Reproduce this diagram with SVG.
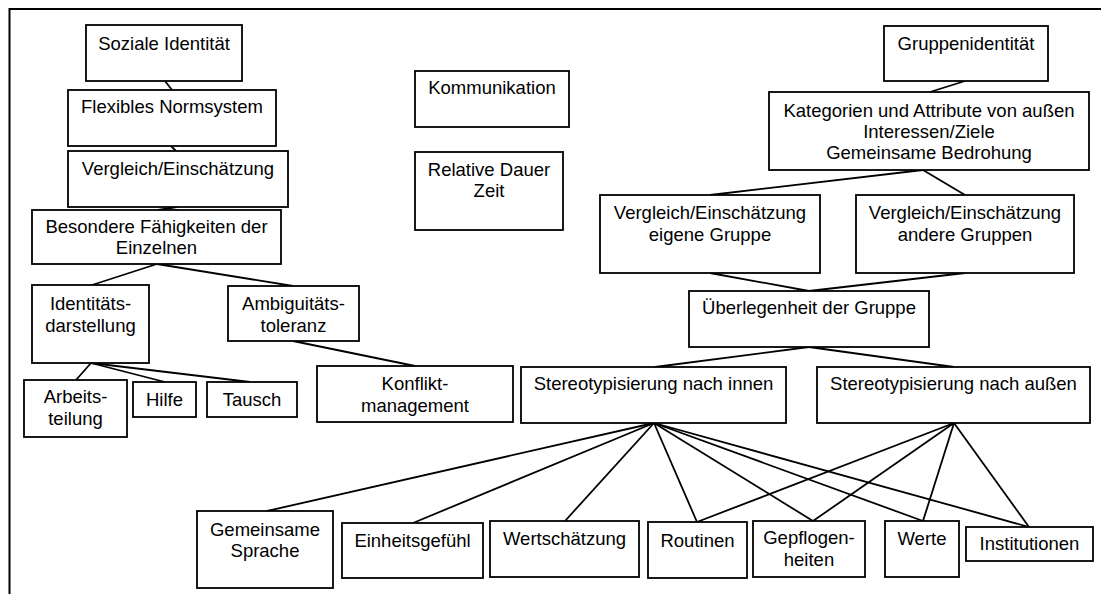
<svg xmlns="http://www.w3.org/2000/svg" width="1101" height="594" viewBox="0 0 1101 594">
<style>
.b{fill:#fff;stroke:#000;stroke-width:1.8}
.t{font-family:"Liberation Sans",Arial,sans-serif;font-size:18.5px;fill:#000;text-anchor:middle}
.c line{stroke:#000;stroke-width:1.8}
</style>
<rect width="1101" height="594" fill="#fff"/>
<path d="M9.5 594 V9 H1101" fill="none" stroke="#000" stroke-width="2"/>
<g class="c" id="connectors">
<line x1="165" y1="81" x2="172" y2="90"/>
<line x1="171" y1="146" x2="176" y2="151"/>
<line x1="177" y1="207" x2="158" y2="210"/>
<line x1="157" y1="264" x2="92" y2="285"/>
<line x1="157" y1="264" x2="293" y2="286"/>
<line x1="91" y1="363" x2="76" y2="380"/>
<line x1="91" y1="363" x2="165" y2="382"/>
<line x1="91" y1="363" x2="250" y2="382"/>
<line x1="293" y1="341" x2="415" y2="366"/>
<line x1="965" y1="81" x2="930" y2="92"/>
<line x1="923" y1="170" x2="710" y2="195"/>
<line x1="923" y1="170" x2="965" y2="195"/>
<line x1="710" y1="273" x2="809" y2="291"/>
<line x1="965" y1="273" x2="809" y2="291"/>
<line x1="809" y1="347" x2="655" y2="367"/>
<line x1="809" y1="347" x2="954" y2="367"/>
<line x1="654" y1="423" x2="267" y2="511"/>
<line x1="654" y1="423" x2="413" y2="523"/>
<line x1="654" y1="423" x2="565" y2="521"/>
<line x1="654" y1="423" x2="697" y2="522"/>
<line x1="654" y1="423" x2="813" y2="521"/>
<line x1="654" y1="423" x2="923" y2="521"/>
<line x1="654" y1="423" x2="1029" y2="527"/>
<line x1="954" y1="423" x2="697" y2="522"/>
<line x1="954" y1="423" x2="813" y2="521"/>
<line x1="954" y1="423" x2="923" y2="521"/>
<line x1="954" y1="423" x2="1029" y2="527"/>
</g>
<g id="soziale"><rect class="b" x="86" y="25" width="156" height="56"/><text class="t" x="164" y="50">Soziale Identität</text></g>
<g id="flexibles"><rect class="b" x="68" y="90" width="208" height="56"/><text class="t" x="172" y="113">Flexibles Normsystem</text></g>
<g id="vergleich"><rect class="b" x="68" y="151" width="220" height="56"/><text class="t" x="178" y="175">Vergleich/Einschätzung</text></g>
<g id="besondere"><rect class="b" x="32" y="210" width="249" height="54"/><text class="t" x="156.5" y="233">Besondere Fähigkeiten der</text><text class="t" x="156.5" y="254">Einzelnen</text></g>
<g id="identitaet"><rect class="b" x="32" y="285" width="117" height="78"/><text class="t" x="90.5" y="310">Identitäts-</text><text class="t" x="90.5" y="332">darstellung</text></g>
<g id="ambiguitaet"><rect class="b" x="228" y="286" width="131" height="55"/><text class="t" x="293.5" y="310">Ambiguitäts-</text><text class="t" x="293.5" y="332">toleranz</text></g>
<g id="arbeitsteilung"><rect class="b" x="24" y="380" width="103" height="57"/><text class="t" x="75.5" y="403">Arbeits-</text><text class="t" x="75.5" y="425">teilung</text></g>
<g id="hilfe"><rect class="b" x="133" y="382" width="63" height="35"/><text class="t" x="164.5" y="406">Hilfe</text></g>
<g id="tausch"><rect class="b" x="207" y="382" width="90" height="35"/><text class="t" x="252" y="406">Tausch</text></g>
<g id="konflikt"><rect class="b" x="317" y="366" width="196" height="56"/><text class="t" x="415" y="390">Konflikt-</text><text class="t" x="415" y="412">management</text></g>
<g id="kommunikation"><rect class="b" x="415" y="71" width="154" height="56"/><text class="t" x="492" y="94">Kommunikation</text></g>
<g id="dauer"><rect class="b" x="415" y="152" width="148" height="78"/><text class="t" x="489" y="176">Relative Dauer</text><text class="t" x="489" y="197">Zeit</text></g>
<g id="gruppenidentitaet"><rect class="b" x="884" y="26" width="164" height="55"/><text class="t" x="966" y="50">Gruppenidentität</text></g>
<g id="kategorien"><rect class="b" x="769" y="92" width="320" height="78"/><text class="t" x="929" y="117">Kategorien und Attribute von außen</text><text class="t" x="929" y="138">Interessen/Ziele</text><text class="t" x="929" y="159">Gemeinsame Bedrohung</text></g>
<g id="eigene"><rect class="b" x="600" y="195" width="220" height="78"/><text class="t" x="710" y="219">Vergleich/Einschätzung</text><text class="t" x="710" y="241">eigene Gruppe</text></g>
<g id="andere"><rect class="b" x="856" y="195" width="218" height="78"/><text class="t" x="965" y="219">Vergleich/Einschätzung</text><text class="t" x="965" y="241">andere Gruppen</text></g>
<g id="ueberlegenheit"><rect class="b" x="689" y="291" width="240" height="56"/><text class="t" x="809" y="314">Überlegenheit der Gruppe</text></g>
<g id="innen"><rect class="b" x="521" y="367" width="265" height="56"/><text class="t" x="653.5" y="390">Stereotypisierung nach innen</text></g>
<g id="aussen"><rect class="b" x="817" y="367" width="273" height="56"/><text class="t" x="953.5" y="390">Stereotypisierung nach außen</text></g>
<g id="sprache"><rect class="b" x="197" y="511" width="136" height="77"/><text class="t" x="265" y="536">Gemeinsame</text><text class="t" x="265" y="557">Sprache</text></g>
<g id="einheit"><rect class="b" x="342" y="523" width="141" height="55"/><text class="t" x="412.5" y="547">Einheitsgefühl</text></g>
<g id="wertschaetzung"><rect class="b" x="490" y="521" width="149" height="56"/><text class="t" x="564.5" y="545">Wertschätzung</text></g>
<g id="routinen"><rect class="b" x="648" y="522" width="99" height="56"/><text class="t" x="697.5" y="547">Routinen</text></g>
<g id="gepflogenheiten"><rect class="b" x="753" y="521" width="112" height="56"/><text class="t" x="809" y="544">Gepflogen-</text><text class="t" x="809" y="566">heiten</text></g>
<g id="werte"><rect class="b" x="885" y="521" width="74" height="56"/><text class="t" x="922" y="545">Werte</text></g>
<g id="institutionen"><rect class="b" x="966" y="527" width="127" height="34"/><text class="t" x="1029.5" y="550">Institutionen</text></g>
</svg>
